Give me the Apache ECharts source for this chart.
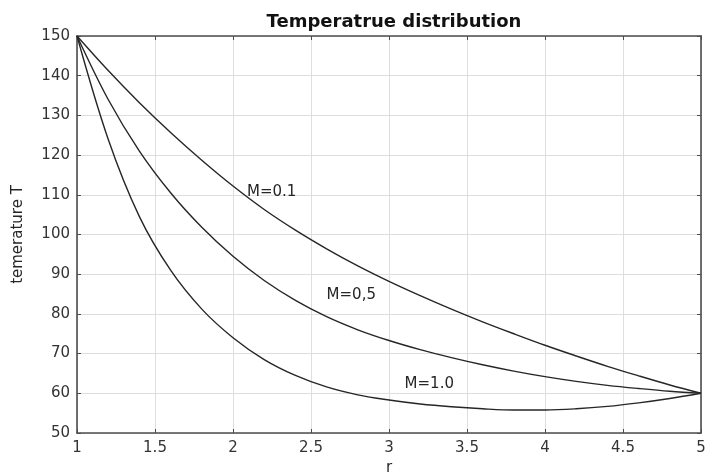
<!DOCTYPE html>
<html>
<head>
<meta charset="utf-8">
<script src="https://cdn.jsdelivr.net/npm/echarts@6/dist/echarts.min.js"></script>
<style>html,body{margin:0;padding:0;background:#fff;overflow:hidden}#c{width:705px;height:474px}</style>
</head>
<body>
<div id="c"></div>
<script>
var rValues = [1, 1.2, 1.4, 1.6, 1.8, 2, 2.2, 2.4, 2.6, 2.8, 3, 3.2, 3.4, 3.6, 3.8, 4, 4.2, 4.4, 4.6, 4.8, 5];
var tempM01 = [150, 141.3, 133.2, 125.7, 118.7, 112.2, 106.3, 101.1, 96.4, 92.1, 88.2, 84.6, 81.2, 78.0, 75.0, 72.1, 69.4, 66.8, 64.4, 62.1, 60];
var tempM05 = [150, 134, 121, 110.5, 101.8, 94.5, 88.4, 83.4, 79.3, 76, 73.3, 71, 69, 67.2, 65.6, 64.2, 63, 62, 61.2, 60.5, 60];
var tempM10 = [150, 124, 104.5, 91, 81.2, 74, 68.5, 64.5, 61.6, 59.6, 58.3, 57.3, 56.6, 56.1, 55.8, 55.8, 56.1, 56.7, 57.6, 58.7, 60];
var seriesNames = ['M=0.1', 'M=0,5', 'M=1.0'];
var labelPos = [[2.09, 110.6], [2.6, 84.8], [3.1, 62.2]];
var xTicks = [1, 1.5, 2, 2.5, 3, 3.5, 4, 4.5, 5];
var yTicks = [50, 60, 70, 80, 90, 100, 110, 120, 130, 140, 150];

var FONT = '"DejaVu Sans", Verdana, sans-serif';
function pairs(ys) { return rValues.map(function (r, i) { return [r, ys[i]]; }); }
var allTemps = [tempM01, tempM05, tempM10];

var series = allTemps.map(function (ys, i) {
  return {
    name: seriesNames[i], type: 'line', data: pairs(ys), smooth: 0.35,
    showSymbol: false, symbol: 'none',
    lineStyle: { color: '#262626', width: 1.4 },
    xAxisIndex: 0, yAxisIndex: 0,
    markPoint: {
      symbol: 'circle', symbolSize: 0, silent: true,
      label: { show: true, position: 'right', distance: 0, formatter: seriesNames[i],
        color: '#262626', fontSize: 15, fontFamily: FONT },
      data: [{ coord: labelPos[i] }]
    }
  };
});

var gridLine = { show: true, lineStyle: { color: '#dedede', width: 1 } };
var axisLine = { show: true, lineStyle: { color: '#4d4d4d', width: 1.6 } };
var axisTick = { show: true, inside: true, length: 4, lineStyle: { color: '#4d4d4d', width: 1 } };

var chart = echarts.init(document.getElementById('c'));
chart.setOption({
  animation: false,
  backgroundColor: '#ffffff',
  title: {
    text: 'Temperatrue distribution', left: 389, top: 8, textAlign: 'center',
    textStyle: { fontFamily: FONT, fontWeight: 'bold', fontSize: 18, color: '#111' }
  },
  grid: { left: 77, right: 4, top: 36, bottom: 41, containLabel: false, outerBoundsMode: 'none' },
  xAxis: [{
    type: 'value', min: 1, max: 5, interval: 0.5, position: 'bottom',
    name: 'r', nameLocation: 'middle', nameGap: 27,
    nameTextStyle: { fontFamily: FONT, fontSize: 15, color: '#262626' },
    axisLine: axisLine, axisTick: axisTick, splitLine: gridLine,
    axisLabel: { fontFamily: FONT, fontSize: 15, color: '#333', margin: 8,
      formatter: function (v) { return xTicks.indexOf(v) >= 0 ? String(v) : ''; } }
  }, {
    type: 'value', min: 1, max: 5, interval: 0.5, position: 'top',
    axisLine: axisLine, axisTick: axisTick, splitLine: { show: false }, axisLabel: { show: false }
  }],
  yAxis: [{
    type: 'value', min: 50, max: 150, interval: 10, position: 'left',
    name: 'temerature T', nameLocation: 'middle', nameGap: 51, nameRotate: 90,
    nameTextStyle: { fontFamily: FONT, fontSize: 15, color: '#262626' },
    axisLine: axisLine, axisTick: axisTick, splitLine: gridLine,
    axisLabel: { fontFamily: FONT, fontSize: 15, color: '#333', margin: 7,
      formatter: function (v) { return yTicks.indexOf(v) >= 0 ? String(v) : ''; } }
  }, {
    type: 'value', min: 50, max: 150, interval: 10, position: 'right',
    axisLine: axisLine, axisTick: axisTick, splitLine: { show: false }, axisLabel: { show: false }
  }],
  series: series
});
</script>
</body>
</html>
